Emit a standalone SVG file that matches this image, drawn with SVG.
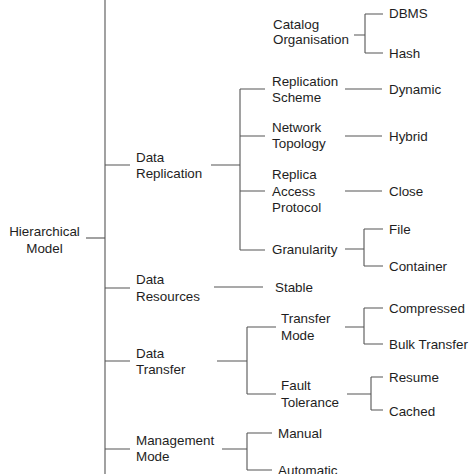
<svg xmlns="http://www.w3.org/2000/svg" width="474" height="474" viewBox="0 0 474 474">
<style>
text{font-family:"Liberation Sans",Arial,sans-serif;font-size:13.4px;fill:#1e1e1e}
.c{stroke:#555;stroke-width:1.1;fill:none}
</style>
<rect width="474" height="474" fill="#fff"/>
<g id="connectors" class="c">
<path d="M105 0V474"/>
<path d="M86 238H105"/>
<path d="M105 165H130M211 165H240"/>
<path d="M240 89V250M240 89H265M240 136H265M240 191H265M240 250H265"/>
<path d="M345 89H382M345 136H382M345 191H382"/>
<path d="M354 35H365M365 14V53M365 14H383M365 53H383"/>
<path d="M345 249H364M364 229V266M364 229H383M364 266H383"/>
<path d="M105 288H130M214 287H263"/>
<path d="M105 361H130M217 361H247M247 327V394M247 327H276M247 394H276"/>
<path d="M345 327H364M364 308V344M364 308H383M364 344H383"/>
<path d="M347 394H371M371 377V410M371 377H383M371 410H383"/>
<path d="M105 449H130M222 449H247M247 433V470M247 433H272M247 470H272"/>
</g>
<g id="hierarchical-model"><text x="44.5" y="236" text-anchor="middle">Hierarchical</text><text x="44.5" y="253" text-anchor="middle">Model</text></g>
<g id="data-replication"><text x="136" y="162">Data</text><text x="136" y="178">Replication</text></g>
<g id="catalog-organisation"><text x="273" y="29">Catalog</text><text x="273" y="44">Organisation</text></g>
<g id="dbms"><text x="389" y="18">DBMS</text></g>
<g id="hash"><text x="389" y="58">Hash</text></g>
<g id="replication-scheme"><text x="272" y="86">Replication</text><text x="272" y="102">Scheme</text></g>
<g id="dynamic"><text x="389" y="94">Dynamic</text></g>
<g id="network-topology"><text x="272" y="132">Network</text><text x="272" y="148">Topology</text></g>
<g id="hybrid"><text x="389" y="141">Hybrid</text></g>
<g id="replica-access-protocol"><text x="272" y="179">Replica</text><text x="272" y="196">Access</text><text x="272" y="212">Protocol</text></g>
<g id="close"><text x="389" y="196">Close</text></g>
<g id="granularity"><text x="272" y="254">Granularity</text></g>
<g id="file"><text x="389" y="234">File</text></g>
<g id="container"><text x="389" y="271">Container</text></g>
<g id="data-resources"><text x="136" y="284">Data</text><text x="136" y="301">Resources</text></g>
<g id="stable"><text x="275" y="292">Stable</text></g>
<g id="data-transfer"><text x="136" y="358">Data</text><text x="136" y="374">Transfer</text></g>
<g id="transfer-mode"><text x="281" y="323">Transfer</text><text x="281" y="340">Mode</text></g>
<g id="compressed"><text x="389" y="313">Compressed</text></g>
<g id="bulk-transfer"><text x="389" y="349">Bulk Transfer</text></g>
<g id="fault-tolerance"><text x="281" y="390">Fault</text><text x="281" y="407">Tolerance</text></g>
<g id="resume"><text x="389" y="382">Resume</text></g>
<g id="cached"><text x="389" y="416">Cached</text></g>
<g id="management-mode"><text x="136" y="445">Management</text><text x="136" y="461">Mode</text></g>
<g id="manual"><text x="278" y="438">Manual</text></g>
<g id="automatic"><text x="278" y="475">Automatic</text></g>
</svg>
